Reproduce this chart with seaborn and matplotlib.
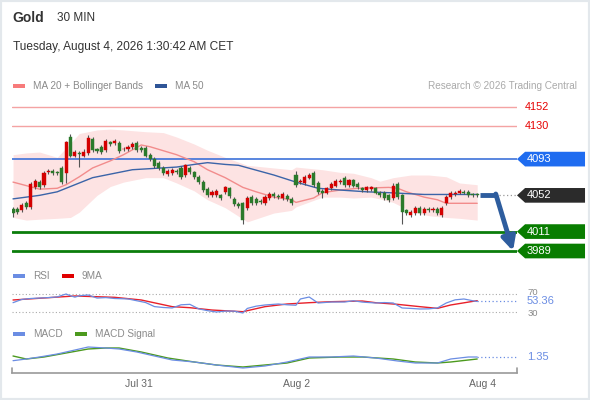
"""Gold 30-minute chart with Bollinger bands, RSI and MACD panels."""

import matplotlib
matplotlib.use("Agg")
import matplotlib.pyplot as plt
import matplotlib.transforms as mtransforms
from matplotlib.patches import Polygon, Rectangle
import numpy as np
import pandas as pd
import seaborn as sns

# 30-minute candles, oldest first
opens = [4037, 4037, 4035, 4043, 4039, 4061, 4067, 4064, 4078, 4080,
         4078, 4083, 4077, 4118, 4097, 4100, 4097, 4100, 4116, 4104,
         4107, 4103, 4112, 4111, 4111, 4104, 4104, 4107, 4111, 4106,
         4106, 4098, 4093, 4089, 4083, 4076, 4077, 4080, 4083, 4075,
         4083, 4078, 4073, 4067, 4059, 4052, 4052, 4052, 4056, 4060,
         4048, 4042, 4043, 4038, 4050, 4048, 4046, 4043, 4049, 4054,
         4051, 4049, 4051, 4048, 4075, 4067, 4066, 4072, 4077, 4066,
         4057, 4055, 4060, 4063, 4067, 4072, 4064, 4069, 4065, 4060,
         4058, 4059, 4060, 4055, 4055, 4052, 4049, 4065, 4052, 4035,
         4030, 4032, 4038, 4032, 4037, 4035, 4037, 4030, 4043, 4050,
         4053, 4055, 4056, 4056, 4053, 4053]
closes = [4032, 4033, 4041, 4039, 4065, 4068, 4061, 4077, 4080, 4077,
          4077, 4067, 4112, 4097, 4101, 4099, 4101, 4117, 4103, 4102,
          4101, 4114, 4110, 4114, 4102, 4105, 4107, 4110, 4103, 4103,
          4097, 4093, 4085, 4083, 4077, 4080, 4081, 4078, 4073, 4086,
          4078, 4073, 4067, 4058, 4052, 4056, 4057, 4049, 4061, 4051,
          4042, 4040, 4024, 4049, 4043, 4043, 4044, 4050, 4054, 4051,
          4050, 4054, 4048, 4043, 4064, 4068, 4073, 4075, 4064, 4056,
          4055, 4060, 4065, 4068, 4068, 4064, 4069, 4063, 4061, 4058,
          4061, 4061, 4055, 4052, 4049, 4047, 4063, 4050, 4033, 4032,
          4033, 4038, 4032, 4037, 4035, 4037, 4032, 4038, 4050, 4055,
          4055, 4057, 4055, 4052, 4052, 4052]
highs = [4039, 4039, 4043, 4046, 4067, 4070, 4069, 4079, 4082, 4082,
         4080, 4085, 4114, 4121, 4103, 4102, 4104, 4120, 4118, 4106,
         4109, 4116, 4114, 4116, 4113, 4107, 4109, 4112, 4113, 4108,
         4108, 4100, 4095, 4091, 4085, 4082, 4083, 4082, 4085, 4088,
         4085, 4080, 4075, 4069, 4061, 4058, 4059, 4054, 4063, 4062,
         4050, 4044, 4045, 4051, 4052, 4050, 4048, 4052, 4056, 4056,
         4053, 4056, 4053, 4050, 4079, 4070, 4075, 4077, 4079, 4068,
         4059, 4062, 4067, 4070, 4070, 4074, 4071, 4071, 4067, 4062,
         4063, 4063, 4062, 4057, 4057, 4054, 4066, 4067, 4054, 4037,
         4035, 4040, 4040, 4039, 4039, 4039, 4039, 4040, 4052, 4057,
         4057, 4059, 4058, 4058, 4055, 4055]
lows = [4028, 4031, 4033, 4037, 4037, 4059, 4059, 4062, 4076, 4075,
        4075, 4065, 4066, 4095, 4095, 4084, 4095, 4098, 4101, 4100,
        4099, 4101, 4108, 4109, 4100, 4102, 4102, 4105, 4101, 4101,
        4095, 4091, 4083, 4081, 4075, 4074, 4075, 4076, 4071, 4073,
        4076, 4071, 4065, 4056, 4050, 4050, 4050, 4047, 4054, 4049,
        4040, 4038, 4020, 4035, 4041, 4041, 4042, 4041, 4047, 4049,
        4048, 4047, 4046, 4041, 4062, 4065, 4064, 4070, 4062, 4054,
        4049, 4053, 4058, 4061, 4065, 4062, 4062, 4061, 4059, 4056,
        4056, 4057, 4053, 4050, 4047, 4045, 4047, 4048, 4020, 4030,
        4028, 4030, 4030, 4030, 4033, 4033, 4030, 4028, 4041, 4048,
        4051, 4053, 4053, 4050, 4050, 4050]

# moving averages and Bollinger bands, sampled at candle positions
ma20_idx = [0, 3, 6, 10, 12, 15, 18, 22, 25, 29, 31, 37, 41, 44, 48, 52,
            55, 59, 63, 64, 68, 70, 74, 78, 85, 87, 89, 93, 96, 98, 100, 105]
ma20 = [4067, 4063, 4059, 4060, 4064, 4073, 4083, 4091, 4098, 4109, 4107,
        4098, 4090, 4081, 4072, 4061, 4056, 4050, 4047, 4044, 4049, 4055,
        4058, 4060, 4061, 4060, 4056, 4050, 4047, 4043, 4043, 4043]
ma50_idx = [0, 6, 10, 14, 18, 22, 27, 37, 41, 44, 48, 51, 59, 64, 69, 74,
            80, 85, 93, 100, 105]
ma50 = [4048, 4052, 4056, 4064, 4072, 4076, 4081, 4084, 4087, 4089, 4087,
        4086, 4075, 4067, 4060, 4058, 4056, 4055, 4053, 4053, 4053]
band_idx = [0, 3, 6, 10, 13, 15, 19, 22, 25, 30, 34, 37, 41, 44, 48, 53,
            59, 63, 64, 70, 74, 77, 81, 83, 86, 90, 94, 98, 101, 105]
band_upper = [4098, 4100, 4101, 4095, 4111, 4122, 4126, 4127, 4126, 4124,
              4123, 4118, 4110, 4103, 4095, 4086, 4083, 4081, 4084, 4081,
              4078, 4077, 4072, 4068, 4072, 4075, 4075, 4073, 4066, 4064]
band_lower = [4027, 4024, 4025, 4026, 4027, 4033, 4052, 4062, 4067, 4072,
              4072, 4066, 4057, 4047, 4038, 4022, 4032, 4035, 4039, 4050,
              4050, 4049, 4050, 4048, 4044, 4034, 4029, 4027, 4026, 4024]

# RSI panel
rsi_idx = [0, 2, 4, 6, 8, 10, 12, 13, 14, 15, 17, 19, 21, 23, 26, 28, 30,
           32, 34, 36, 38, 40, 42, 44, 46, 48, 50, 52, 53, 55, 57, 60, 62,
           64, 65, 67, 69, 72, 75, 77, 79, 82, 84, 86, 88, 90, 92, 94, 96,
           98, 100, 102, 104, 105]
rsi = [50.7, 58, 60, 61, 62, 63.5, 70, 66, 63, 66, 67.8, 61, 62, 60, 59,
       55, 51, 42, 40, 39, 46, 47, 37, 33, 30, 32, 32, 27.8, 38, 43, 45.6,
       47.8, 46, 45, 58.9, 63.3, 50, 52.2, 52.2, 55, 52, 50, 51, 50, 39,
       38, 36.7, 37, 39, 50, 57, 58.9, 55, 53.36]
rsi_ma_idx = [0, 14, 23, 29, 36, 40, 45, 52, 57, 62, 67, 72, 79, 82, 87,
              92, 96, 99, 105]
rsi_ma = [56.7, 65.6, 62.6, 56.7, 41.9, 39.6, 34.4, 30.7, 41.9, 47.8, 50.7,
          52.9, 54.4, 50.7, 47.0, 41.9, 38.1, 45.6, 55.2]

# MACD panel
macd_idx = [0, 3, 6, 10, 14, 17, 21, 24, 28, 33, 36, 41, 46, 52, 57, 62,
            67, 72, 77, 82, 87, 91, 96, 99, 103, 105]
macd = [0.24, 0.75, 1.35, 2.25, 3.45, 4.35, 4.05, 3.75, 2.85, 1.35, 0.45,
        -0.15, -1.05, -1.95, -1.35, -0.15, 1.35, 1.35, 1.65, 1.05, 0.15,
        -0.45, -0.45, 0.75, 1.35, 1.35]
signal_idx = [0, 3, 7, 12, 17, 21, 24, 29, 35, 41, 46, 52, 57, 62, 67, 74,
              79, 86, 91, 96, 99, 105]
macd_signal = [1.65, 0.75, 1.35, 2.55, 3.75, 4.05, 4.05, 2.85, 1.05, -0.15,
               -1.05, -1.65, -1.05, -0.45, 1.05, 1.35, 1.35, 0.75, -0.15,
               -0.45, -0.15, 0.75]

resistances = [4152, 4130]
pivot = 4093
supports = [4011, 3989]
target = 3989
date_ticks = [28.4, 64.2, 106.3]
date_labels = ["Jul 31", "Aug 2", "Aug 4"]

RED = "#d40000"
GREEN = "#2b7a2b"
BLUE = "#3b64a8"
RSI_BLUE = "#6b8de3"
GREY_TXT = "#8a8a8a"

sns.set_theme(style="white")
plt.rcParams["font.family"] = ["Liberation Sans", "DejaVu Sans"]

W, H = 590, 400
fig = plt.figure(figsize=(W / 100, H / 100), dpi=100)
fig.patch.set_facecolor("white")


def px_axes(x0, y0, x1, y1):
    return fig.add_axes([x0 / W, 1 - y1 / H, (x1 - x0) / W, (y1 - y0) / H])


def fig_text(x, y, s, **kw):
    fig.text(x / W, 1 - y / H, s, va="center", **kw)


def legend_patch(x, y, color):
    fig.add_artist(Rectangle((x / W, 1 - (y + 2) / H), 12 / W, 4 / H,
                             transform=fig.transFigure, color=color, lw=0))


ax = px_axes(12, 100, 517, 258)
ax_rsi = px_axes(12, 288, 517, 318)
ax_macd = px_axes(12, 340, 517, 373)
xlim = (-0.23, 114.0)
for a in (ax, ax_rsi, ax_macd):
    a.set_xlim(*xlim)
    a.set_xticks([])
    a.set_yticks([])
    a.set_facecolor("none")
    for sp in a.spines.values():
        sp.set_visible(False)

ax.set_ylim(3981.1, 4159.9)
ax_rsi.set_ylim(16.7, 83.3)
ax_macd.set_ylim(-3.45, 6.45)

# --- price panel ---
ax.fill_between(band_idx, band_lower, band_upper, color="#fde3e3", lw=0, zorder=0)
sns.lineplot(x=ma20_idx, y=ma20, ax=ax, color="#f28c8c", lw=1, zorder=2)
sns.lineplot(x=ma50_idx, y=ma50, ax=ax, color=BLUE, lw=1, zorder=2)

df = pd.DataFrame({"o": opens, "c": closes, "h": highs, "l": lows})
df["i"] = np.arange(len(df))
colors = np.where(df["c"] >= df["o"], RED, GREEN)
ax.vlines(df["i"], df["l"], df["h"], color="#555555", lw=0.8, zorder=3)
ax.bar(df["i"], (df["c"] - df["o"]).abs().clip(lower=1.0),
       bottom=np.minimum(df["o"], df["c"]), width=0.7,
       color=colors, edgecolor=colors, lw=0.3, zorder=4)

blend = mtransforms.blended_transform_factory(ax.transAxes, ax.transData)
for lvl in resistances:
    ax.axhline(lvl, color="#f4a3a3", lw=1, zorder=1)
    ax.text(1.016, lvl, str(lvl), transform=blend, color="#e60000",
            fontsize=7.8, va="center", ha="left")

ax.axhline(pivot, color="#3d72d9", lw=1.2, zorder=1)
for lvl in supports:
    ax.axhline(lvl, color="#0b7d0b", lw=2, zorder=1)


def price_box(lvl, face):
    h = 8.3
    poly = Polygon([(1.0, lvl), (1.016, lvl + h), (1.1347, lvl + h),
                    (1.1347, lvl - h), (1.016, lvl - h)], closed=True,
                   transform=blend, clip_on=False, color=face, lw=0)
    ax.add_patch(poly)
    ax.text(1.0198, lvl, str(lvl), transform=blend, color="white",
            fontsize=8, va="center", ha="left")


price_box(pivot, "#1f6cf0")
price_box(closes[-1], "#2b2b2b")
for lvl in supports:
    price_box(lvl, "#087d00")

# forecast arrow
last_i = len(closes) - 1
ax.plot([last_i + 0.7, last_i + 4.5], [closes[-1], closes[-1]],
        color="#2e5d9e", lw=3.5, solid_capstyle="butt", zorder=5)
ax.annotate("", xy=(last_i + 8.1, target), xytext=(last_i + 4.2, closes[-1] + 1.5),
            arrowprops=dict(arrowstyle="-|>", lw=3.5, color="#2e5d9e",
                            mutation_scale=20, shrinkA=0, shrinkB=0),
            zorder=5)
ax.plot([last_i + 5.0, xlim[1]], [closes[-1], closes[-1]], ls=(0, (1, 2)),
        color="#999999", lw=0.9, zorder=1)

# --- RSI panel ---
for lvl in (70, 30):
    ax_rsi.axhline(lvl, ls=(0, (1, 2)), color="#aaaaaa", lw=0.8)
sns.lineplot(x=rsi_ma_idx, y=rsi_ma, ax=ax_rsi, color="#e8202a", lw=1)
sns.lineplot(x=rsi_idx, y=rsi, ax=ax_rsi, color=RSI_BLUE, lw=0.9)
ax_rsi.plot([rsi_idx[-1], xlim[1]], [rsi[-1], rsi[-1]], ls=(0, (1, 2)),
            color=RSI_BLUE, lw=0.9)
rblend = mtransforms.blended_transform_factory(ax_rsi.transAxes, ax_rsi.transData)
ax_rsi.text(1.02, 73, "70", transform=rblend, color=GREY_TXT, fontsize=6.8,
            va="center", ha="left")
ax_rsi.text(1.02, 26, "30", transform=rblend, color=GREY_TXT, fontsize=6.8,
            va="center", ha="left")
ax_rsi.text(1.0198, rsi[-1], f"{rsi[-1]:.2f}", transform=rblend, color=RSI_BLUE,
            fontsize=8, va="center", ha="left", zorder=5)

# --- MACD panel ---
sns.lineplot(x=signal_idx, y=macd_signal, ax=ax_macd, color="#4c9a1e", lw=1)
sns.lineplot(x=macd_idx, y=macd, ax=ax_macd, color=RSI_BLUE, lw=0.9)
ax_macd.plot([macd_idx[-1], xlim[1]], [macd[-1], macd[-1]], ls=(0, (1, 2)),
             color=RSI_BLUE, lw=0.9)
mblend = mtransforms.blended_transform_factory(ax_macd.transAxes, ax_macd.transData)
ax_macd.text(1.0198, macd[-1], f"{macd[-1]:.2f}", transform=mblend,
             color=RSI_BLUE, fontsize=8, va="center", ha="left")

# date axis
ax_macd.spines["bottom"].set_visible(True)
ax_macd.spines["bottom"].set_color("#9a9a9a")
ax_macd.spines["bottom"].set_linewidth(1.2)
for xe in (0, 1):
    ax_macd.plot([xe, xe], [0, 0.16], transform=ax_macd.transAxes,
                 color="#9a9a9a", lw=1.2, clip_on=False)
ax_macd.set_xticks(date_ticks, date_labels)
ax_macd.tick_params(axis="x", length=0, pad=4, labelsize=7.5,
                    labelcolor="#666666")

# --- header and legends ---
fig_text(12, 18, "Gold", fontsize=10, fontweight="bold", color="#333333")
fig_text(57, 18, "30 MIN", fontsize=8.5, color="#333333")
fig_text(13, 47, "Tuesday, August 4, 2026 1:30:42 AM CET", fontsize=8.6,
         color="#333333")

legend_patch(13, 86, "#f77b7b")
fig_text(33, 86, "MA 20 + Bollinger Bands", fontsize=7.2, color=GREY_TXT)
legend_patch(155, 86, "#2f5597")
fig_text(175, 86, "MA 50", fontsize=7.2, color=GREY_TXT)
fig_text(577, 86, "Research © 2026 Trading Central", fontsize=7.2,
         color="#aaaaaa", ha="right")

legend_patch(13, 276, RSI_BLUE)
fig_text(33, 276, "RSI", fontsize=7.2, color=GREY_TXT)
legend_patch(62, 276, "#e00000")
fig_text(82, 276, "9MA", fontsize=7.2, color=GREY_TXT)

legend_patch(13, 334, RSI_BLUE)
fig_text(33, 334, "MACD", fontsize=7.2, color=GREY_TXT)
legend_patch(75, 334, "#4c9a1e")
fig_text(95, 334, "MACD Signal", fontsize=7.2, color=GREY_TXT)

fig.add_artist(Rectangle((0, 0), 1, 1, transform=fig.transFigure, fill=False,
                         edgecolor="#e3e8ec", lw=3))

fig.savefig("out.png", dpi=100)
